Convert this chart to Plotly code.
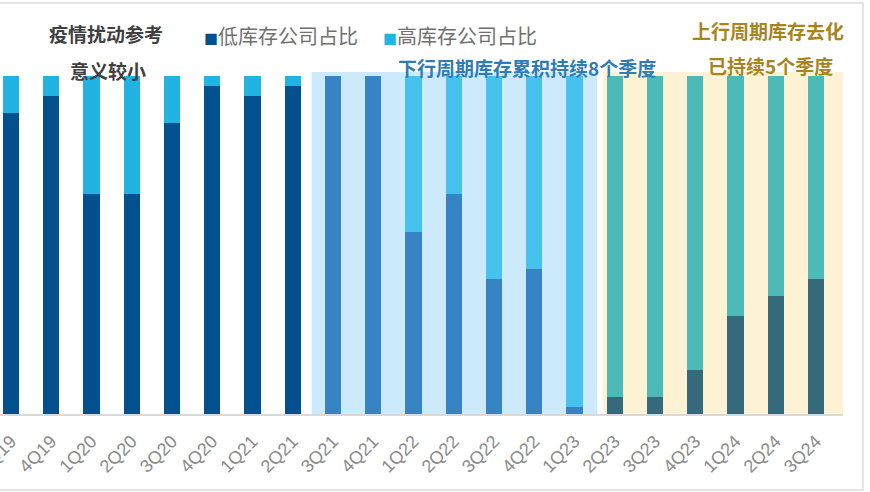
import plotly.graph_objects as go

quarters = ["3Q19", "4Q19", "1Q20", "2Q20", "3Q20", "4Q20", "1Q21", "2Q21",
            "3Q21", "4Q21", "1Q22", "2Q22", "3Q22", "4Q22", "1Q23",
            "2Q23", "3Q23", "4Q23", "1Q24", "2Q24", "3Q24"]
low_share = [0.89, 0.94, 0.65, 0.65, 0.86, 0.97, 0.94, 0.97,
             1.00, 1.00, 0.54, 0.65, 0.40, 0.43, 0.02,
             0.05, 0.05, 0.13, 0.29, 0.35, 0.40]
high_share = [0.11, 0.06, 0.35, 0.35, 0.14, 0.03, 0.06, 0.03,
              0.00, 0.00, 0.46, 0.35, 0.60, 0.57, 0.98,
              0.95, 0.95, 0.87, 0.71, 0.65, 0.60]
phase = ["pre"] * 8 + ["down"] * 7 + ["up"] * 6

low_colors = {"pre": "#02508e", "down": "#3784c4", "up": "#346a7b"}
high_colors = {"pre": "#21b3e2", "down": "#47c2ee", "up": "#4ebab8"}

CJK = "Noto Sans CJK SC"

fig = go.Figure()
fig.add_trace(go.Bar(x=quarters, y=low_share, name="低库存公司占比",
                     marker=dict(color=[low_colors[p] for p in phase], line_width=0),
                     width=0.4, showlegend=False))
fig.add_trace(go.Bar(x=quarters, y=high_share, name="高库存公司占比",
                     marker=dict(color=[high_colors[p] for p in phase], line_width=0),
                     width=0.4, showlegend=False))

shapes = [
    dict(type="rect", xref="x", yref="y", x0=7.47, x1=14.56, y0=0, y1=1.012,
         fillcolor="#cdeafc", line_width=0, layer="below"),
    dict(type="rect", xref="x", yref="y", x0=14.71, x1=20.67, y0=0, y1=1.012,
         fillcolor="#fdf2d3", line_width=0, layer="below"),
    dict(type="rect", xref="paper", yref="paper", x0=-0.02, x1=1.0237, y0=-0.222, y1=1.2018,
         line=dict(color="#dcdcdc", width=1.5), fillcolor="rgba(0,0,0,0)", layer="below"),
]

W = 843.0
H = 342.0
def px(xp):
    return xp / W
def py(yp):
    return (414 - yp) / H

def ann(text, x, y, color, size=19):
    return dict(text="<b>%s</b>" % text, x=px(x), y=py(y), xref="paper", yref="paper",
                showarrow=False, font=dict(family=CJK, size=size, color=color),
                xanchor="center", yanchor="middle")

annotations = [
    ann("疫情扰动参考", 106, 33, "#404040"),
    ann("意义较小", 108, 70, "#404040"),
    ann("下行周期库存累积持续8个季度", 527, 67, "#2e7bb5"),
    ann("上行周期库存去化", 768, 31, "#a8841c"),
    ann("已持续5个季度", 770, 65, "#a8841c"),
    dict(text='<span style="color:#02508e;font-size:14px">■</span>低库存公司占比', x=px(202), y=py(36),
         xref="paper", yref="paper", showarrow=False, xanchor="left", yanchor="middle",
         font=dict(family=CJK, size=20, color="#707070")),
    dict(text='<span style="color:#21b3e2;font-size:14px">■</span>高库存公司占比', x=px(381), y=py(36),
         xref="paper", yref="paper", showarrow=False, xanchor="left", yanchor="middle",
         font=dict(family=CJK, size=20, color="#707070")),
]

fig.update_layout(
    width=870, height=492,
    margin=dict(l=0, r=27, t=72, b=78, autoexpand=False),
    barmode="stack",
    plot_bgcolor="white", paper_bgcolor="white",
    shapes=shapes, annotations=annotations,
    xaxis=dict(type="category", range=[-0.273, 20.67], tickangle=-45, automargin=False,
               tickfont=dict(family="Liberation Sans", size=18, color="#8a8a8a"),
               ticklabelstandoff=8,
               showline=True, linecolor="#d9d9d9", linewidth=1.5,
               showgrid=False, ticks="", zeroline=False),
    yaxis=dict(range=[0, 1.012], visible=False, showgrid=False, zeroline=False,
               automargin=False),
)

fig.write_html("out.html", config={"displayModeBar": False},
               post_script="document.body.style.margin='0';")
